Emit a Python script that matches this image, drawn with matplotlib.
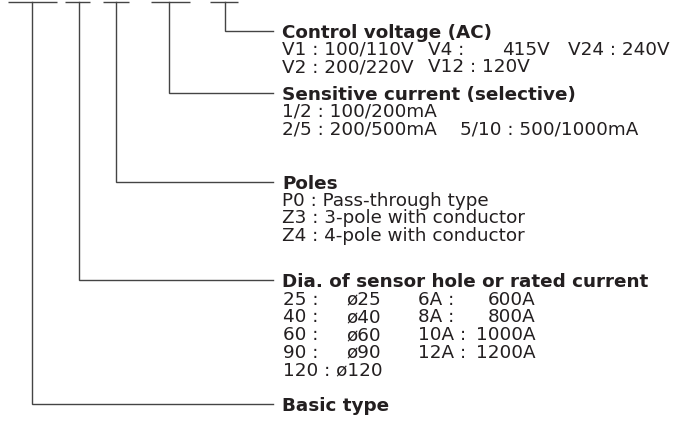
import matplotlib
matplotlib.use("Agg")
import matplotlib.pyplot as plt

# ---- content ----
group_titles = ["Control voltage (AC)", "Sensitive current (selective)", "Poles",
                "Dia. of sensor hole or rated current", "Basic type"]

control_rows = [["V1 : 100/110V", "V4 :", "415V", "V24 : 240V"],
                ["V2 : 200/220V", "V12 : 120V", "", ""]]
sensitive_rows = [["1/2 : 100/200mA", ""],
                  ["2/5 : 200/500mA", "5/10 : 500/1000mA"]]
pole_rows = ["P0 : Pass-through type", "Z3 : 3-pole with conductor", "Z4 : 4-pole with conductor"]
dia_codes = ["25 :", "40 :", "60 :", "90 :"]
dia_values = ["ø25", "ø40", "ø60", "ø90"]
rated_codes = ["6A :", "8A :", "10A :", "12A :"]
rated_values = ["600A", "800A", "1000A", "1200A"]
dia_last = "120 : ø120"

# ---- layout (pixels) ----
W, H = 685, 435
fig = plt.figure(figsize=(W / 100, H / 100), dpi=100)
ax = fig.add_axes([0, 0, 1, 1])
ax.set_xlim(0, W)
ax.set_ylim(H, 0)
ax.axis("off")

FONT = "DejaVu Sans"
FS = 13.2
TXT = "#231f20"
LINE = "#444444"
LW = 1.0

stem_x = [32, 79, 116, 169, 225]           # basic, dia, poles, sensitive, control
dash_spans = [(8, 57), (65, 90), (103, 129), (151, 190), (210, 238)]
dash_y = 3
line_end = 273
tx = 282
title_y = {"Control": 32, "Sensitive": 94, "Poles": 183, "Dia": 281, "Basic": 405}
row = 17.6
first = 16.8
off = 6.0  # baseline offset from line centre

def t(x, y, s, bold=False, ha="left"):
    ax.text(x, y + off, s, fontsize=FS, family=FONT, color=TXT,
            fontweight="bold" if bold else "normal", ha=ha, va="baseline")

for (a, b) in dash_spans:
    ax.plot([a, b], [dash_y, dash_y], color=LINE, lw=LW, solid_capstyle="butt")

keys = ["Basic", "Dia", "Poles", "Sensitive", "Control"]
for sx, k in zip(stem_x, keys):
    yy = title_y[k]
    ax.plot([sx, sx, line_end], [dash_y, yy, yy], color=LINE, lw=LW,
            solid_joinstyle="miter")

# titles
for k, s in zip(["Control", "Sensitive", "Poles", "Dia", "Basic"], group_titles):
    t(tx, title_y[k], s, bold=True)

# control voltage rows
y0 = title_y["Control"] + first
ctrl_x = [tx, 428, 502, 568]
for i, r in enumerate(control_rows):
    for x, s in zip(ctrl_x, r):
        if s:
            t(x, y0 + i * row, s)

# sensitive rows
y0 = title_y["Sensitive"] + first
for i, r in enumerate(sensitive_rows):
    for x, s in zip([tx, 460], r):
        if s:
            t(x, y0 + i * row, s)

# poles rows
y0 = title_y["Poles"] + first
for i, s in enumerate(pole_rows):
    t(tx, y0 + i * row, s)

# dia rows
y0 = title_y["Dia"] + first + 1
for i in range(len(dia_codes)):
    yy = y0 + i * row
    t(tx + 1, yy, dia_codes[i])
    t(346, yy, dia_values[i])
    t(418, yy, rated_codes[i])
    t(536, yy, rated_values[i], ha="right")
t(tx + 1, y0 + len(dia_codes) * row, dia_last)

fig.savefig("out.png", dpi=100, facecolor="white")
